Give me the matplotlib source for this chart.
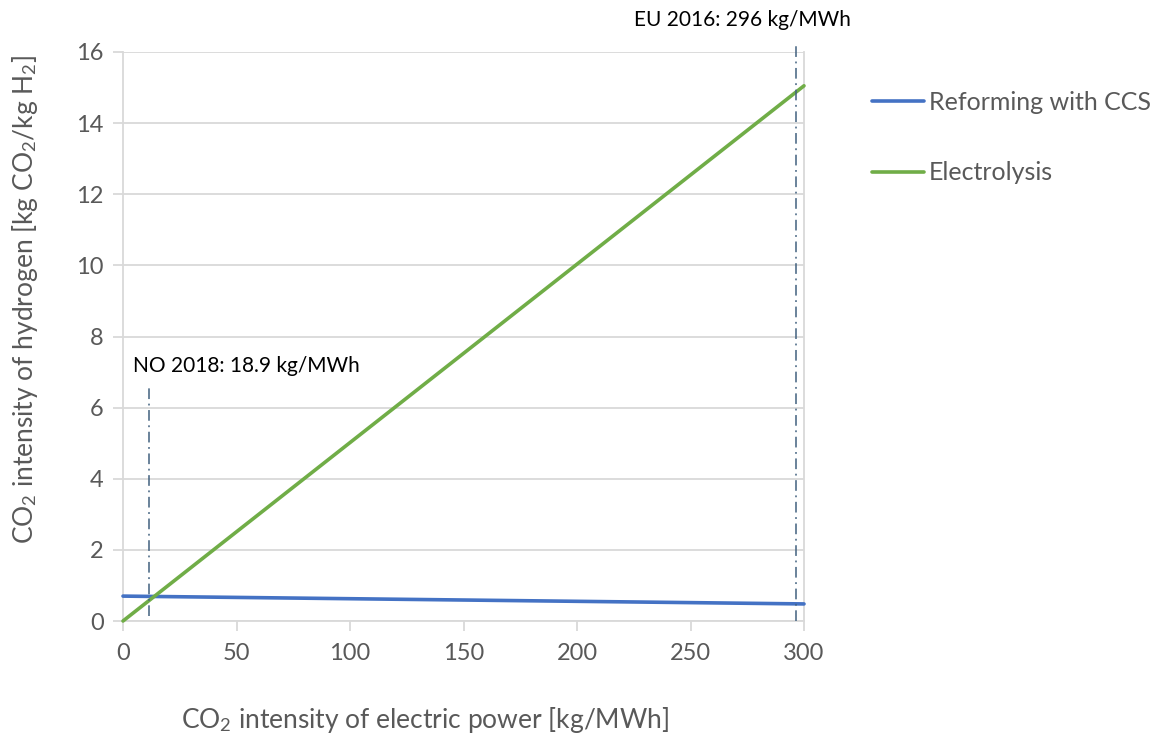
import matplotlib
matplotlib.use("Agg")
import matplotlib.pyplot as plt
import numpy as np

plt.rcParams['font.family'] = ['Lato', 'DejaVu Sans']
plt.rcParams['mathtext.fontset'] = 'custom'
plt.rcParams['mathtext.rm'] = 'Lato'
plt.rcParams['mathtext.it'] = 'Lato:italic'

# Data
power_intensity = [0, 300]                 # kg/MWh
reforming_ccs = [0.70, 0.48]               # kg CO2 / kg H2
electrolysis = [0.0, 15.05]                # kg CO2 / kg H2
series_labels = ["Reforming with CCS", "Electrolysis"]
marker_x = [11.5, 296.5]
marker_y_top = [6.55, 16.25]
marker_y_bottom = [0.15, 0.0]
marker_labels = ["NO 2018: 18.9 kg/MWh", "EU 2016: 296 kg/MWh"]
xticks = [0, 50, 100, 150, 200, 250, 300]
yticks = [0, 2, 4, 6, 8, 10, 12, 14, 16]

W, H = 1156, 735
fig = plt.figure(figsize=(W/100, H/100), dpi=100)
ax = fig.add_axes([123/W, 1-621/H, (804-123)/W, (621-52)/H])

tick_col = '#595959'
grid_col = '#d9d9d9'

ax.set_xlim(0, 300)
ax.set_ylim(0, 16)
ax.set_yticks(yticks)
ax.set_xticks(xticks)
ax.grid(axis='y', color=grid_col, lw=1.3)
ax.set_axisbelow(True)
ax.spines['top'].set_visible(False)
for s in ['right', 'left', 'bottom']:
    ax.spines[s].set_color(grid_col)
    ax.spines[s].set_linewidth(1.3)
ax.tick_params(axis='both', colors=grid_col, labelcolor=tick_col, labelsize=17,
               length=7, width=1.3, direction='out')
ax.tick_params(axis='x', pad=9)
ax.tick_params(axis='y', pad=7)

l1, = ax.plot(power_intensity, reforming_ccs, color='#4472C4', lw=2.6,
              solid_capstyle='round', label=series_labels[0], clip_on=False, zorder=3)
l2, = ax.plot(power_intensity, electrolysis, color='#70AD47', lw=2.6,
              solid_capstyle='round', label=series_labels[1], clip_on=False, zorder=3)

for xv, yb, yt in zip(marker_x, marker_y_bottom, marker_y_top):
    ax.plot([xv, xv], [yb, yt], color='#41617F', lw=1.1, ls=(0, (7, 3, 1.2, 3)),
            clip_on=False, zorder=4)

ax.text(133, H-366, marker_labels[0], transform=None, fontsize=15, color='#000000',
        va='center', ha='left')
ax.text(634, H-20, marker_labels[1], transform=None, fontsize=15, color='#000000',
        va='center', ha='left')

fig.text(425/W, 1-720/H, 'CO$_\\mathregular{2}$ intensity of electric power [kg/MWh]',
         ha='center', va='center', fontsize=19, color=tick_col)
fig.text(25/W, 1-300/H, 'CO$_\\mathregular{2}$ intensity of hydrogen [kg CO$_\\mathregular{2}$/kg H$_\\mathregular{2}$]',
         ha='center', va='center', rotation=90, fontsize=19, color=tick_col)

leg = fig.legend(handles=[l1, l2], loc='upper left', bbox_to_anchor=(849/W, 1-68/H),
                 frameon=False, fontsize=18, handlelength=2.1, handletextpad=0.2,
                 labelspacing=1.91, labelcolor=tick_col)

fig.savefig('out.png', dpi=100)
